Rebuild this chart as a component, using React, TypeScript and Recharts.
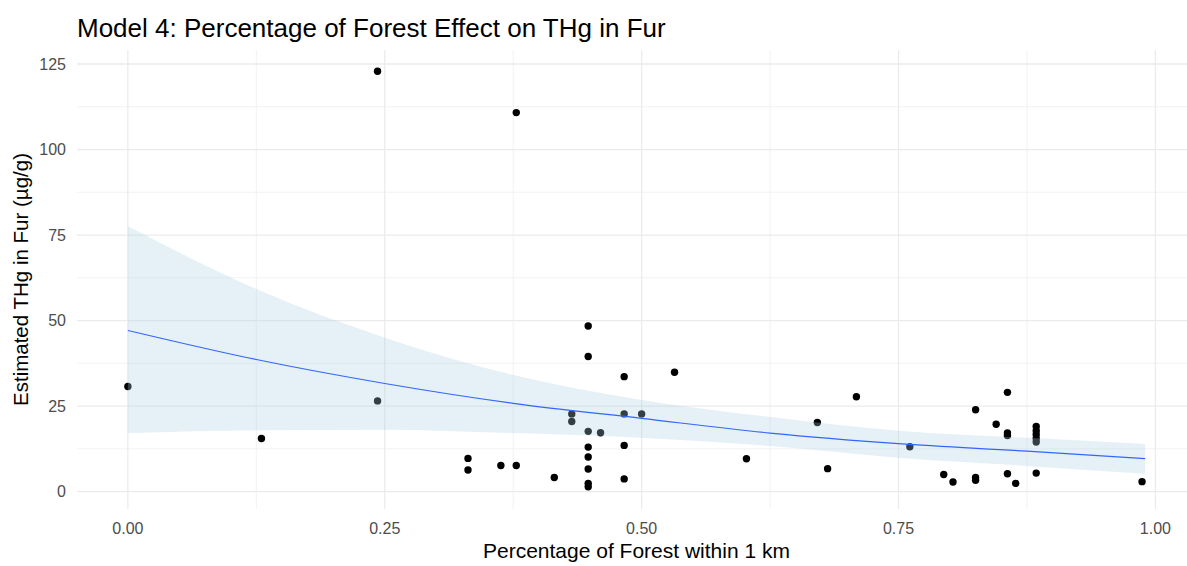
import React from 'react';
import {
  ComposedChart,
  Scatter,
  Area,
  Line,
  XAxis,
  YAxis,
  CartesianGrid,
} from 'recharts';

// observed points
const pointX = [
  0, 0.13, 0.243, 0.243, 0.331, 0.331, 0.363, 0.378, 0.378, 0.415,
  0.432, 0.432, 0.448, 0.448, 0.448, 0.448, 0.448, 0.448, 0.448, 0.448,
  0.46, 0.483, 0.483, 0.483, 0.483, 0.5, 0.532, 0.602, 0.671, 0.681,
  0.709, 0.761, 0.794, 0.803, 0.825, 0.825, 0.825, 0.845, 0.856, 0.856,
  0.856, 0.856, 0.864, 0.884, 0.884, 0.884, 0.884, 0.884, 0.884, 0.987,
];
const pointY = [
  30.7, 15.5, 122.9, 26.5, 9.7, 6.3, 7.6, 7.6, 110.8, 4.1,
  22.7, 20.5, 48.4, 39.5, 17.6, 13.0, 10.1, 6.6, 2.4, 1.4,
  17.2, 33.6, 22.7, 13.5, 3.7, 22.7, 34.9, 9.6, 20.2, 6.7,
  27.7, 13.1, 5.0, 2.8, 23.9, 4.1, 3.3, 19.7, 29.0, 17.1,
  16.4, 5.2, 2.4, 19.0, 17.8, 16.7, 15.5, 14.5, 5.4, 2.9,
];

// fitted curve with confidence band
const fitX = [0, 0.125, 0.25, 0.375, 0.5, 0.625, 0.75, 0.875, 0.99];
const fitY = [47.1, 38.6, 31.6, 25.8, 21.4, 17.1, 14.0, 11.8, 9.6];
const fitLow = [17.1, 17.9, 18.1, 17.1, 15.7, 13.3, 9.9, 7.5, 5.2];
const fitHigh = [77.6, 59.2, 45.0, 34.1, 26.8, 21.8, 17.8, 15.7, 13.9];

const xTicks = [0, 0.25, 0.5, 0.75, 1];
const yTicks = [0, 25, 50, 75, 100, 125];
const xMinor = [0.125, 0.375, 0.625, 0.875];
const yMinor = [12.5, 37.5, 62.5, 87.5, 112.5];

const FONT = '"Liberation Sans", Arial, sans-serif';

const points = pointX.map((x, i) => ({ x, y: pointY[i] }));
const fitData = fitX.map((x, i) => ({
  x,
  fit: fitY[i],
  band: [fitLow[i], fitHigh[i]],
}));

const XLabel = ({ viewBox }: any) => (
  <text
    x={viewBox.x + viewBox.width / 2}
    y={558}
    textAnchor="middle"
    fontFamily={FONT}
    fontSize={21}
    fill="#000"
  >
    Percentage of Forest within 1 km
  </text>
);

const YLabel = ({ viewBox }: any) => {
  const cx = 28;
  const cy = viewBox.y + viewBox.height / 2;
  return (
    <text
      x={cx}
      y={cy}
      transform={`rotate(-90 ${cx} ${cy})`}
      textAnchor="middle"
      fontFamily={FONT}
      fontSize={20.5}
      fill="#000"
    >
      Estimated THg in Fur (µg/g)
    </text>
  );
};

export default function App() {
  return (
    <div
      style={{
        position: 'relative',
        width: 1187,
        height: 566,
        overflow: 'hidden',
        background: '#fff',
      }}
    >
      <style>{'body{margin:0}'}</style>
      <div
        style={{
          position: 'absolute',
          left: 77,
          top: 15,
          fontFamily: FONT,
          fontSize: 26,
          lineHeight: '26px',
          color: '#000',
          whiteSpace: 'nowrap',
        }}
      >
        Model 4: Percentage of Forest Effect on THg in Fur
      </div>
      <ComposedChart
        width={1203}
        height={566}
        margin={{ top: 50, right: 7, bottom: 0, left: 17 }}
      >
        <CartesianGrid
          horizontalValues={yMinor}
          verticalValues={xMinor}
          stroke="#f2f2f2"
          strokeWidth={1}
        />
        <CartesianGrid
          horizontalValues={yTicks}
          verticalValues={xTicks}
          stroke="#ebebeb"
          strokeWidth={1.3}
        />
        <XAxis
          type="number"
          dataKey="x"
          domain={[-0.0495, 1.0395]}
          ticks={xTicks}
          tickFormatter={(v: number) => v.toFixed(2)}
          axisLine={false}
          tickLine={false}
          tickMargin={8}
          height={57}
          allowDataOverflow
          tick={{ fill: '#4d4d4d', fontSize: 16, fontFamily: FONT }}
          label={<XLabel />}
        />
        <YAxis
          type="number"
          domain={[-5.1, 129.1]}
          ticks={yTicks}
          axisLine={false}
          tickLine={false}
          tickMargin={5}
          width={60}
          allowDataOverflow
          tick={{ fill: '#4d4d4d', fontSize: 16, fontFamily: FONT }}
          label={<YLabel />}
        />
        <Scatter
          data={points}
          dataKey="y"
          fill="#000"
          zIndex={300}
          isAnimationActive={false}
          shape={(p: any) => <circle cx={p.cx} cy={p.cy} r={3.7} fill="#000" />}
        />
        <Area
          data={fitData}
          dataKey="band"
          type="monotone"
          stroke="none"
          fill="#a9cce3"
          fillOpacity={0.3}
          zIndex={700}
          isAnimationActive={false}
          activeDot={false}
        />
        <Line
          data={fitData}
          dataKey="fit"
          type="monotone"
          stroke="#3366ff"
          strokeWidth={1.2}
          zIndex={800}
          dot={false}
          activeDot={false}
          isAnimationActive={false}
        />
      </ComposedChart>
    </div>
  );
}
